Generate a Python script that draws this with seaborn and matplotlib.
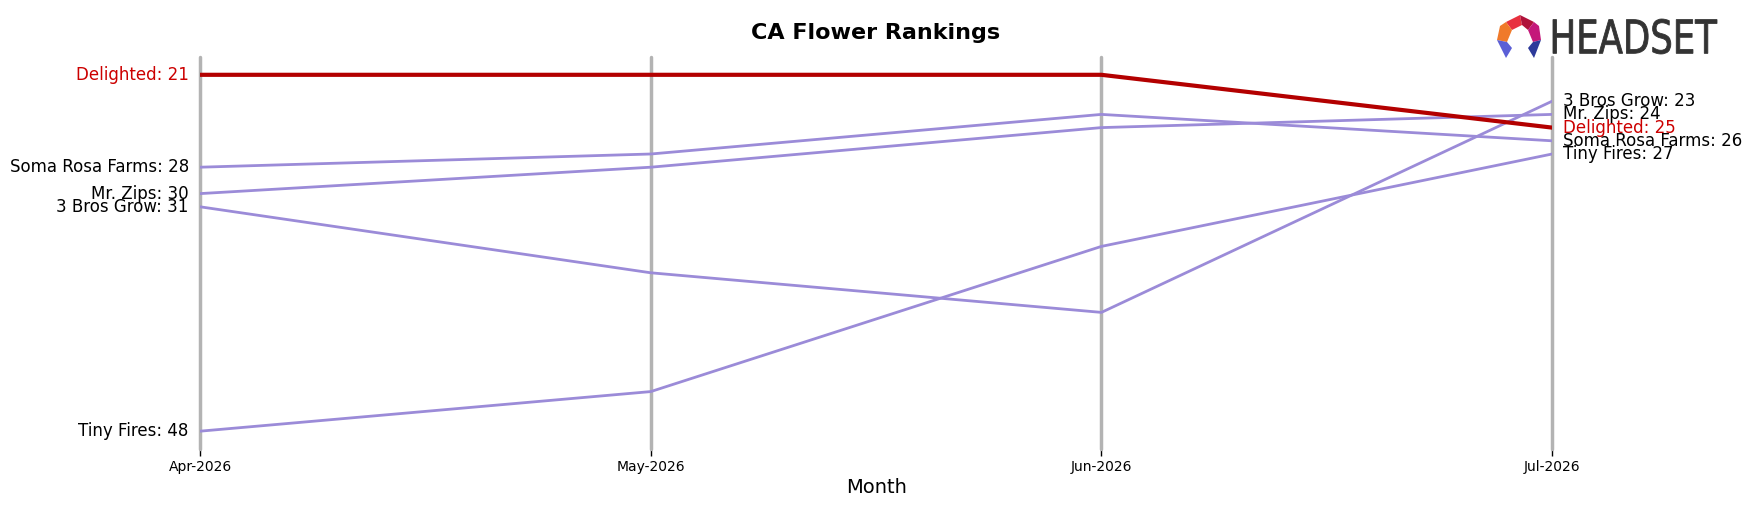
import matplotlib
matplotlib.use("Agg")
import matplotlib.pyplot as plt
import seaborn as sns
import pandas as pd
from matplotlib.textpath import TextPath
from matplotlib.patches import PathPatch, Polygon
from matplotlib.font_manager import FontProperties
from matplotlib.transforms import Affine2D

months = ["Apr-2026", "May-2026", "Jun-2026", "Jul-2026"]
brands = ["Soma Rosa Farms", "Mr. Zips", "3 Bros Grow", "Tiny Fires", "Delighted"]
soma_rosa = [28, 27, 24, 26]
mr_zips = [30, 28, 25, 24]
three_bros = [31, 36, 39, 23]
tiny_fires = [48, 45, 34, 27]
delighted = [21, 21, 21, 25]
series = [soma_rosa, mr_zips, three_bros, tiny_fires, delighted]
highlight = "Delighted"

rows = []
for b, vals in zip(brands, series):
    for i, (m, v) in enumerate(zip(months, vals)):
        rows.append({"brand": b, "month": m, "x": i, "rank": v})
df = pd.DataFrame(rows)

sns.set_style("white")
plt.rcParams['font.family'] = ['DejaVu Sans']
plt.rcParams['text.color'] = 'black'
plt.rcParams['axes.labelcolor'] = 'black'
plt.rcParams['xtick.color'] = 'black'

fig = plt.figure(figsize=(17.52, 5.07), dpi=100)
ax = fig.add_axes([0.1142, 0.1144, 0.7717, 0.7732])

for i in range(len(months)):
    ax.axvline(i, color="#b3b3b3", lw=2.5, zorder=1, clip_on=False)

others = df[df.brand != highlight]
sns.lineplot(data=others, x="x", y="rank", hue="brand", units="brand", estimator=None,
             palette={b: "#9b8bd8" for b in brands if b != highlight},
             lw=2, legend=False, ax=ax, zorder=2, sort=False)
sns.lineplot(data=df[df.brand == highlight], x="x", y="rank", color="#b30000",
             lw=3, legend=False, ax=ax, zorder=3, estimator=None, sort=False)

all_ranks = [v for s in series for v in s]
lo, hi = min(all_ranks), max(all_ranks)
m = 0.05 * (hi - lo)
ax.set_ylim(hi + m, lo - m)
ax.set_xlim(0, len(months) - 1)

for b, vals in zip(brands, series):
    col = "#cc0000" if b == highlight else "black"
    ax.text(-0.025, vals[0], f"{b}: {vals[0]}", ha="right", va="center", fontsize=12, color=col)
    ax.text(len(months) - 1 + 0.025, vals[-1], f"{b}: {vals[-1]}", ha="left", va="center",
            fontsize=12, color=col)

ax.set_xticks(range(len(months)))
ax.set_xticklabels(months, fontsize=10)
ax.tick_params(axis="x", length=5, width=1, color="black", bottom=True, pad=3)
ax.set_yticks([])
ax.set_ylabel("")
ax.set_xlabel("Month", fontsize=14, labelpad=3)
for s in ax.spines.values():
    s.set_visible(False)

fig.text(0.5, 0.935, "CA Flower Rankings", ha="center", va="center", fontsize=16,
         fontweight="bold", color="black")

# logo
lax = fig.add_axes([0, 0, 1, 1], zorder=10)
lax.set_xlim(0, 1752)
lax.set_ylim(507, 0)
lax.axis("off")
polys = [
    ([(1506, 22), (1520, 15), (1522, 25), (1512, 30)], "#e8313f"),
    ([(1520, 15), (1534, 22), (1528, 30), (1522, 25)], "#b0123a"),
    ([(1534, 22), (1539, 26), (1541, 40), (1533, 42), (1528, 30)], "#c4187a"),
    ([(1506, 22), (1512, 30), (1507, 42), (1497, 40), (1500, 26)], "#f07a2a"),
    ([(1497, 40), (1507, 42), (1512, 48), (1506, 58)], "#5b5fd6"),
    ([(1541, 40), (1533, 42), (1528, 48), (1534, 58)], "#2d3a9a"),
]
for pts, c in polys:
    lax.add_patch(Polygon(pts, closed=True, color=c, lw=0))
fp = FontProperties(family="DejaVu Sans")
tp = TextPath((0, 0), "HEADSET", size=40, prop=fp)
bb = tp.get_extents()
sx = (1717 - 1553) / bb.width
sy = 35 / bb.height
tr = Affine2D().translate(-bb.x0, -bb.y0).scale(sx, -sy).translate(1553, 54)
lax.add_patch(PathPatch(tr.transform_path(tp), facecolor="#333333", edgecolor="#333333", lw=0.6))

fig.savefig("out.png", dpi=100)
